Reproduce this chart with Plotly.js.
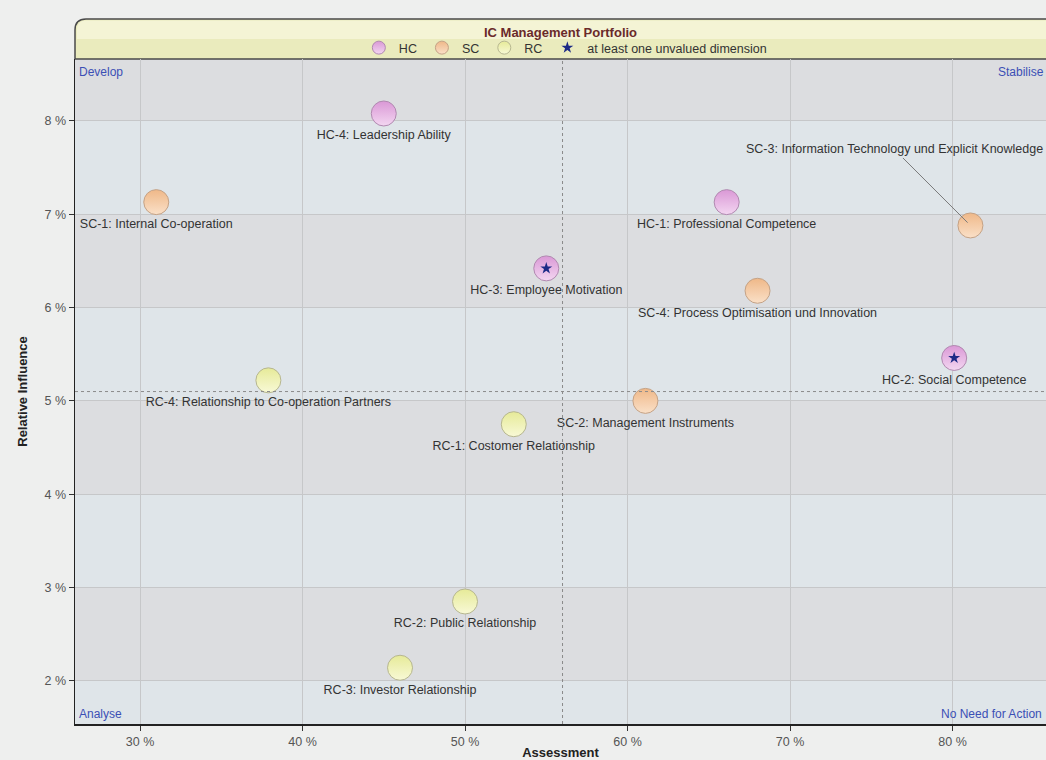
<!DOCTYPE html>
<html>
<head>
<meta charset="utf-8">
<script src="https://cdn.plot.ly/plotly-3.0.1.min.js"></script>
<style>
html,body{margin:0;padding:0;background:#eeefee;overflow:hidden;}
#chart{width:1046px;height:760px;}
</style>
</head>
<body>
<div id="chart"></div>
<script>
// ---- data ----
const groups = ["HC", "SC", "RC"];
const groupLabels = {HC: "HC", SC: "SC", RC: "RC"};
const names = [
  "HC-1: Professional Competence", "HC-2: Social Competence", "HC-3: Employee Motivation", "HC-4: Leadership Ability",
  "SC-1: Internal Co-operation", "SC-2: Management Instruments", "SC-3: Information Technology und Explicit Knowledge", "SC-4: Process Optimisation und Innovation",
  "RC-1: Costomer Relationship", "RC-2: Public Relationship", "RC-3: Investor Relationship", "RC-4: Relationship to Co-operation Partners"
];
const group = ["HC","HC","HC","HC","SC","SC","SC","SC","RC","RC","RC","RC"];
const assessment = [66.1, 80.1, 55.0, 45.0, 31.0, 61.1, 81.1, 68.0, 53.0, 50.0, 46.0, 37.9];
const influence  = [7.13, 5.46, 6.42, 8.08, 7.13, 5.00, 6.88, 6.18, 4.75, 2.85, 2.14, 5.22];
const unvalued   = [false, true, true, false, false, false, false, false, false, false, false, false];
const leaderLabel = [false, false, false, false, false, false, true, false, false, false, false, false];
const xTickVals = [30, 40, 50, 60, 70, 80];
const yTickVals = [2, 3, 4, 5, 6, 7, 8];
const xThreshold = 56;
const yThreshold = 5.1;
const xRange = [26, 85.75];
const yRange = [1.537, 8.664];
const quadrants = ["Develop", "Stabilise", "Analyse", "No Need for Action"];
const starLegend = "at least one unvalued dimension";

// ---- styles ----
const colTop = {HC: "#da98d6", SC: "#efb888", RC: "#e6ea98"};
const colBot = {HC: "#f3d6f1", SC: "#fae0c8", RC: "#f8f9d6"};
const lineCol = {HC: "#b089b0", SC: "#c4a286", RC: "#b6b690"};
const txtFont = {family: "Liberation Sans, Arial, sans-serif", size: 12.5, color: "#333333"};

const traces = [];
groups.forEach(g => {
  const idx = group.map((v, i) => v === g ? i : -1).filter(i => i >= 0);
  traces.push({
    type: "scatter",
    mode: "markers+text",
    name: groupLabels[g],
    showlegend: false,
    x: idx.map(i => assessment[i]),
    y: idx.map(i => influence[i]),
    text: idx.map(i => leaderLabel[i] ? "" : names[i]),
    textposition: "bottom center",
    textfont: txtFont,
    cliponaxis: false,
    hoverinfo: "text",
    hovertext: idx.map(i => names[i]),
    marker: {
      size: 25,
      color: colTop[g],
      gradient: {type: "vertical", color: colBot[g]},
      line: {color: lineCol[g], width: 1}
    }
  });
});
// legend entries (smaller symbols, no data)
groups.forEach(g => {
  traces.push({
    type: "scatter", mode: "markers", name: groupLabels[g], x: [null], y: [null],
    hoverinfo: "skip",
    marker: {size: 13, color: colTop[g], gradient: {type: "vertical", color: colBot[g]},
      line: {color: lineCol[g], width: 1}}
  });
});
const starIdx = unvalued.map((v, i) => v ? i : -1).filter(i => i >= 0);
traces.push({
  type: "scatter",
  mode: "markers",
  name: starLegend,
  x: starIdx.map(i => assessment[i]),
  y: starIdx.map(i => influence[i]),
  hoverinfo: "skip",
  marker: {symbol: "star", size: 9, color: "#1c2a86", line: {width: 0}}
});

// bands
const shapes = [];
const bandEdges = [yRange[0]].concat(yTickVals).concat([yRange[1]]);
for (let k = 0; k < bandEdges.length - 1; k++) {
  if (k % 2 === 0) {
    shapes.push({type: "rect", xref: "paper", yref: "y", x0: 0, x1: 1,
      y0: bandEdges[k], y1: bandEdges[k + 1], fillcolor: "#dfe5e9", line: {width: 0}, layer: "below"});
  }
}
shapes.push({type: "line", xref: "x", yref: "paper", x0: xThreshold, x1: xThreshold, y0: 0, y1: 1,
  line: {color: "#8a8a8a", width: 1, dash: "dot"}});
shapes.push({type: "line", xref: "paper", yref: "y", x0: 0, x1: 1, y0: yThreshold, y1: yThreshold,
  line: {color: "#8a8a8a", width: 1, dash: "dot"}});
// header box
const plotH = 760 - 59 - 36;
const plotW = 1046 - 75;
const hTop = 1 + 40 / plotH;
const rx = 11 / plotW, ry = 11 / plotH;
shapes.push({type: "path", xref: "paper", yref: "paper",
  path: `M 0,1 L 0,${hTop - ry} Q 0,${hTop} ${rx},${hTop} L 1.01,${hTop} L 1.01,1 Z`,
  fillcolor: "#eaebbd", line: {color: "#4a4a4a", width: 1.5}, layer: "below"});
shapes.push({type: "path", xref: "paper", yref: "paper",
  path: `M 0.002,${1 + 20 / plotH} L 0.002,${hTop - ry} Q 0.002,${hTop - 1.5 / plotH} ${rx},${hTop - 1.5 / plotH} L 1.01,${hTop - 1.5 / plotH} L 1.01,${1 + 20 / plotH} Z`,
  fillcolor: "rgba(250,250,228,0.6)", line: {width: 0}, layer: "below"});

const qFont = {family: "Liberation Sans, Arial, sans-serif", size: 12, color: "#3b4fb5"};
const annotations = [
  {xref: "paper", yref: "paper", x: 0, y: 1, xanchor: "left", yanchor: "top", xshift: 2, yshift: -4, text: quadrants[0], showarrow: false, font: qFont},
  {xref: "paper", yref: "paper", x: 1, y: 1, xanchor: "right", yanchor: "top", xshift: 0, yshift: -4, text: quadrants[1], showarrow: false, font: qFont},
  {xref: "paper", yref: "paper", x: 0, y: 0, xanchor: "left", yanchor: "bottom", xshift: 2, yshift: 1, text: quadrants[2], showarrow: false, font: qFont},
  {xref: "paper", yref: "paper", x: 1, y: 0, xanchor: "right", yanchor: "bottom", xshift: -2, yshift: 1, text: quadrants[3], showarrow: false, font: qFont}
];
leaderLabel.forEach((v, i) => {
  if (!v) return;
  annotations.push({x: assessment[i], y: influence[i], xref: "x", yref: "y", text: names[i],
    showarrow: true, arrowhead: 0, arrowwidth: 1, arrowcolor: "#7a7a7a", standoff: 4,
    ax: -76, ay: -76, font: txtFont});
});

const layout = {
  width: 1046, height: 760,
  margin: {l: 75, r: 0, t: 59, b: 36},
  paper_bgcolor: "#eeefee",
  plot_bgcolor: "#dcdde0",
  showlegend: true,
  title: {text: "IC Management Portfolio", x: 0.5, xref: "paper", xanchor: "center",
    y: 1 - 32 / 760, yref: "container", yanchor: "middle",
    font: {family: "Liberation Sans, Arial, sans-serif", size: 13, color: "#6a2a2a", weight: "bold"}},
  legend: {orientation: "h", x: 0.505, xanchor: "center", xref: "paper", y: 1 + 11 / plotH, yanchor: "middle",
    bgcolor: "rgba(0,0,0,0)", font: {family: "Liberation Sans, Arial, sans-serif", size: 12.5, color: "#333"},
    itemsizing: "trace", tracegroupgap: 0, itemwidth: 30},
  xaxis: {range: xRange, tickvals: xTickVals, ticktext: xTickVals.map(v => v + " %"),
    showgrid: true, gridcolor: "#c6c7c9", gridwidth: 1, zeroline: false,
    showline: true, linecolor: "#222", linewidth: 1.5, ticks: "outside", ticklen: 5, tickcolor: "#333",
    tickfont: {family: "Liberation Sans, Arial, sans-serif", size: 12.5, color: "#555"},
    title: {text: "Assessment", standoff: 3, font: {family: "Liberation Sans, Arial, sans-serif", size: 13, color: "#222", weight: "bold"}},
    fixedrange: true},
  yaxis: {range: yRange, tickvals: yTickVals, ticktext: yTickVals.map(v => v + " %"),
    showgrid: true, gridcolor: "#c6c7c9", gridwidth: 1, zeroline: false,
    showline: true, linecolor: "#222", linewidth: 1.5, ticks: "outside", ticklen: 5, tickcolor: "#333",
    tickfont: {family: "Liberation Sans, Arial, sans-serif", size: 12.5, color: "#555"},
    title: {text: "Relative Influence", standoff: 14, font: {family: "Liberation Sans, Arial, sans-serif", size: 13, color: "#222", weight: "bold"}},
    fixedrange: true},
  shapes: shapes,
  annotations: annotations
};
Plotly.newPlot("chart", traces, layout, {displayModeBar: false, staticPlot: true});
</script>
</body>
</html>
